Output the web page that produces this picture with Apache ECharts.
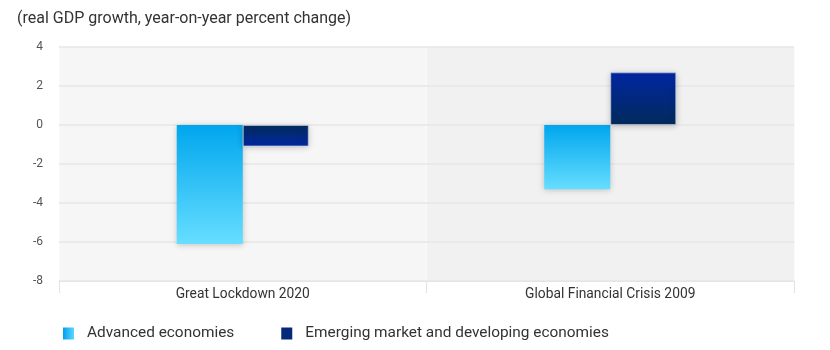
<!DOCTYPE html>
<html><head><meta charset="utf-8">
<script src="https://cdn.jsdelivr.net/npm/echarts@6/dist/echarts.min.js"></script>
<style>html,body{margin:0;padding:0;background:#fff}#c{width:830px;height:350px}</style>
</head><body><div id="c"></div>
<script>
const categories = ['Great Lockdown 2020', 'Global Financial Crisis 2009'];
const seriesNames = ['Advanced economies', 'Emerging market and developing economies'];
const advanced = [-6.1, -3.3];
const emerging = [-1.1, 2.7];
const yTicks = [-8, -6, -4, -2, 0, 2, 4];
const subtitle = '(real GDP growth, year-on-year percent change)';

const FONT = 'Roboto';
function grad(v, zeroC, farC) {
  const stops = v < 0
    ? [{offset: 0, color: zeroC}, {offset: 1, color: farC}]
    : [{offset: 0, color: farC}, {offset: 1, color: zeroC}];
  return new echarts.graphic.LinearGradient(0, 0, 0, 1, stops);
}
const advZero = '#00a6ee', advFar = '#66deff';
const emZero = '#022a5a', emFar = '#0027a2';
const shadow = {shadowBlur: 6, shadowColor: 'rgba(0,0,0,0.22)', shadowOffsetY: 1};

const chart = echarts.init(document.getElementById('c'), null, {renderer: 'canvas'});
chart.setOption({
  animation: false,
  backgroundColor: '#ffffff',
  title: {
    text: subtitle, left: 12, top: 6,
    textStyle: {fontFamily: FONT, fontSize: 16, fontWeight: 'normal', color: '#333'}
  },
  grid: {left: 59, right: 36, top: 47, bottom: 69},
  legend: {
    left: 58, top: 321, itemWidth: 11, itemHeight: 12, itemGap: 47, icon: 'rect',
    textStyle: {fontFamily: FONT, fontSize: 15.4, color: '#333', padding: [0, 0, 0, 8]},
    data: [
      {name: seriesNames[0], itemStyle: {color: new echarts.graphic.LinearGradient(0, 0, 1, 0, [{offset: 0, color: '#00a0ee'}, {offset: 1, color: '#5ad8ff'}])}},
      {name: seriesNames[1], itemStyle: {color: '#06287a'}}
    ]
  },
  xAxis: {
    type: 'category', data: categories, z: 0,
    axisLine: {show: true, onZero: false, lineStyle: {color: '#e2e2e2', width: 1}},
    axisTick: {show: true, length: 12, lineStyle: {color: '#e2e2e2'}},
    axisLabel: {fontFamily: FONT, fontSize: 13.8, color: '#333', margin: 7},
    splitArea: {show: true, areaStyle: {color: ['#f6f6f6', '#f1f1f1']}},
    splitLine: {show: true, lineStyle: {color: '#fafafa', width: 1}}
  },
  yAxis: {
    type: 'value', min: yTicks[0], max: yTicks[yTicks.length - 1], interval: 2, z: 1,
    axisLine: {show: false}, axisTick: {show: false},
    axisLabel: {fontFamily: FONT, fontSize: 12, color: '#555', margin: 16},
    splitLine: {lineStyle: {color: '#e6e6e6', width: 1.5}}
  },
  series: [
    {
      name: seriesNames[0], type: 'bar', barWidth: 66, barGap: '0%', z: 3,
      itemStyle: {color: '#22b8f2'},
      data: advanced.map(v => ({value: v, itemStyle: Object.assign({color: grad(v, advZero, advFar)}, shadow)}))
    },
    {
      name: seriesNames[1], type: 'bar', barWidth: 66, barGap: '0%', z: 3,
      itemStyle: {color: '#06287a'},
      data: emerging.map(v => ({value: v, itemStyle: Object.assign({color: grad(v, emZero, emFar), borderColor: 'rgba(200,210,230,0.6)', borderWidth: 1}, shadow)}))
    }
  ]
});
</script></body></html>
